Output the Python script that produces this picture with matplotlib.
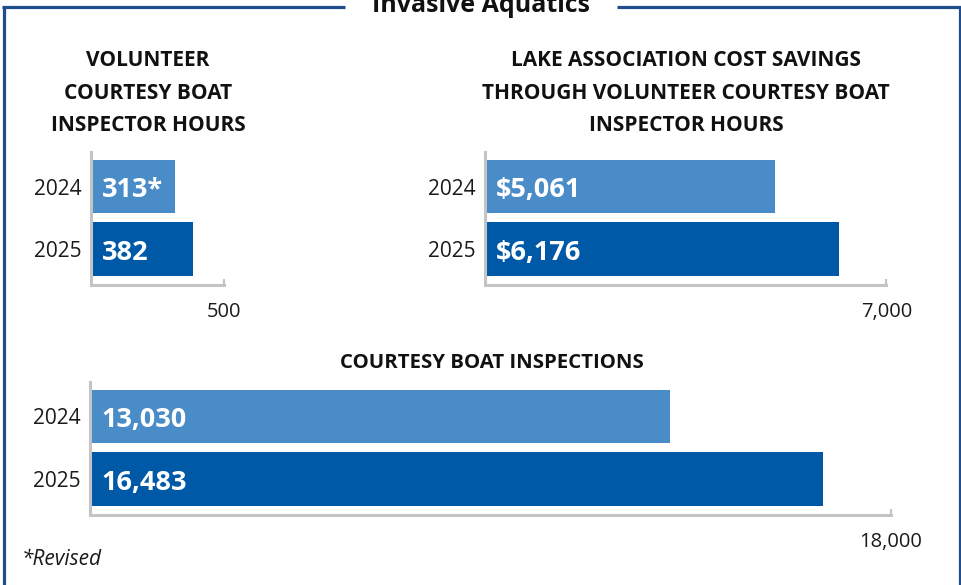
import matplotlib
matplotlib.use('Agg')
import matplotlib.pyplot as plt
from matplotlib.lines import Line2D

# ---------------- data ----------------
years = ['2024', '2025']
volunteer_hours = [313, 382]
hours_notes = ['*', '']
cost_savings = [5061, 6176]
inspections = [13030, 16483]
hours_axis_max = 500
savings_axis_max = 7000
inspections_axis_max = 18000

main_title = 'Invasive Aquatics'
title_hours = ['VOLUNTEER', 'COURTESY BOAT', 'INSPECTOR HOURS']
title_savings = ['LAKE ASSOCIATION COST SAVINGS',
                 'THROUGH VOLUNTEER COURTESY BOAT', 'INSPECTOR HOURS']
title_inspections = ['COURTESY BOAT INSPECTIONS']
footnote = '*Revised'

# ---------------- style ----------------
plt.rcParams['font.family'] = ['Open Sans', 'DejaVu Sans']
W, H = 962, 585
LIGHT = '#4a8cc8'
DARK = '#0059a6'
GRID = '#c4c4c4'
BORDER = '#1f4e8c'
TXT = '#1a1a1a'

fig = plt.figure(figsize=(W / 100, H / 100), dpi=100)


def fx(px):
    return px / W


def fy(py):
    return 1 - py / H


def px_axes(left, right, top, bottom):
    return fig.add_axes([fx(left), fy(bottom), (right - left) / W, (bottom - top) / H])


def draw_chart(ax, values, labels, vmax):
    ax.barh(range(len(values)), values, height=0.86, color=[LIGHT, DARK], zorder=1)
    ax.set_xlim(0, vmax)
    ax.set_ylim(1.576, -0.552)
    for s in ('top', 'right'):
        ax.spines[s].set_visible(False)
    for s in ('left', 'bottom'):
        ax.spines[s].set_color(GRID)
        ax.spines[s].set_linewidth(2.2)
    ax.set_yticks(range(len(values)), years)
    ax.tick_params(axis='y', length=0, pad=7, labelsize=15, labelcolor=TXT)
    ax.set_xticks([vmax], [f'{vmax:,}'])
    ax.tick_params(axis='x', direction='in', length=4.5, width=1.6, color=GRID,
                   pad=12, labelsize=14.5, labelcolor=TXT)
    for i, lab in enumerate(labels):
        ax.annotate(lab, xy=(0, i), xytext=(8, -7.8), textcoords='offset points',
                    ha='left', va='baseline', color='white', fontsize=19.5,
                    fontweight='bold', zorder=3)
    ax.set_facecolor('none')


# chart 1: volunteer hours
ax1 = px_axes(91, 91 + 0.2668 * hours_axis_max, 152, 285)
draw_chart(ax1, volunteer_hours,
           [f'{v:,}{n}' for v, n in zip(volunteer_hours, hours_notes)], hours_axis_max)

# chart 2: cost savings
ax2 = px_axes(485, 485 + 0.05733 * savings_axis_max, 152, 285)
draw_chart(ax2, cost_savings, [f'${v:,}' for v in cost_savings], savings_axis_max)

# chart 3: inspections
ax3 = px_axes(90, 90 + 0.04449 * inspections_axis_max, 382, 515)
draw_chart(ax3, inspections, [f'{v:,}' for v in inspections], inspections_axis_max)

# titles
for line, base in zip(title_hours, [66, 98.5, 131]):
    fig.text(fx(148), fy(base), line, ha='center', va='baseline', fontsize=15,
             fontweight='bold', color='#111111')
for line, base in zip(title_savings, [66, 98.5, 131]):
    fig.text(fx(686), fy(base), line, ha='center', va='baseline', fontsize=15,
             fontweight='bold', color='#111111')
for line, base in zip(title_inspections, [368]):
    fig.text(fx(491.5), fy(base), line, ha='center', va='baseline', fontsize=14.7,
             fontweight='bold', color='#111111')

fig.text(fx(481), fy(11.5), main_title, ha='center', va='baseline', fontsize=18,
         fontweight='bold', color='#111111')

fig.text(fx(22), fy(565), footnote, ha='left', va='baseline', fontsize=15,
         fontstyle='italic', color=TXT)

# border frame
lw = 2.3
def fline(xs, ys):
    fig.add_artist(Line2D([fx(x) for x in xs], [fy(y) for y in ys], color=BORDER,
                          lw=lw, solid_capstyle='butt', transform=fig.transFigure))

fline([3.5, 3.5], [6, 590])
fline([2.3, 345], [7, 7])
fline([617, 962], [7, 7])
fline([960.5, 960.5], [6, 590])

fig.savefig('out.png', dpi=100, facecolor='white')
